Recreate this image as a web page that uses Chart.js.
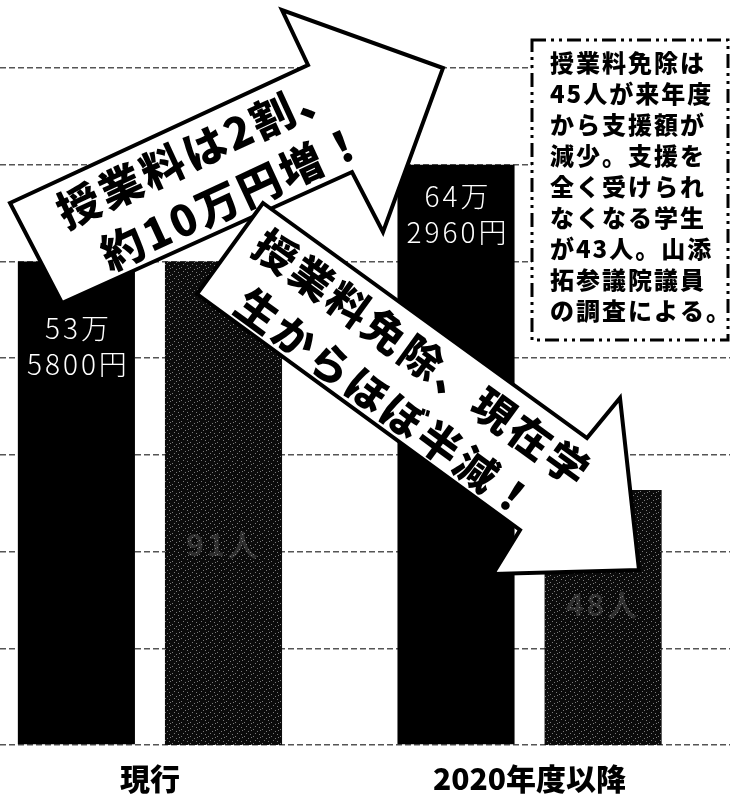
<!DOCTYPE html>
<html lang="ja">
<head>
<meta charset="utf-8">
<title>授業料と授業料免除</title>
<script src="https://cdn.jsdelivr.net/npm/chart.js@4.4.1/dist/chart.umd.min.js"></script>
<style>
  html, body { margin: 0; padding: 0; background: #fff; }
  #wrap { position: relative; width: 730px; height: 795px; }
</style>
</head>
<body>
<div id="wrap"><canvas id="tuitionChart"></canvas></div>
<script>
// --- data ---
const categories = ["現行", "2020年度以降"];
const tuition = [535800, 642960];   // 授業料（円）
const exempted = [91, 48];          // 授業料免除（人）
const yenStep = 107160;             // grid step, yen axis
const peopleStep = 18.2;            // grid step, people axis
const gridCount = 7;

const noteLines = ["授業料免除は", "45人が来年度", "から支援額が", "減少。支援を", "全く受けられ",
  "なくなる学生", "が43人。山添", "拓参議院議員", "の調査による。"];
const arrowUpLines = ["授業料は2割、", "約10万円増！"];
const arrowDownLines = ["授業料免除、現在学", "生からほぼ半減！"];

const FONT = '"Noto Sans CJK JP", "Noto Sans", sans-serif';

// dark stippled fill for the second series
function stipple() {
  const c = document.createElement("canvas");
  c.width = 9; c.height = 7;
  const g = c.getContext("2d");
  g.fillStyle = "#0b0b0b";
  g.fillRect(0, 0, 9, 7);
  g.fillStyle = "#7a7a7a";
  [[1, 1], [5, 3], [3, 5], [7, 6], [8, 2]].forEach(([x, y]) => g.fillRect(x, y, 1, 1));
  return g.createPattern(c, "repeat");
}

function drawArrow(ctx, pts) {
  ctx.beginPath();
  pts.forEach(([x, y], i) => i ? ctx.lineTo(x, y) : ctx.moveTo(x, y));
  ctx.closePath();
  ctx.fillStyle = "#fff";
  ctx.fill();
  ctx.lineWidth = 4;
  ctx.lineJoin = "miter";
  ctx.strokeStyle = "#000";
  ctx.stroke();
}

function drawRotatedLines(ctx, lines, ox, oy, angle, starts, offsets, size) {
  ctx.save();
  ctx.translate(ox, oy);
  ctx.rotate(angle);
  ctx.font = `900 ${size}px ${FONT}`;
  ctx.fillStyle = "#000";
  ctx.textAlign = "left";
  ctx.textBaseline = "middle";
  ctx.letterSpacing = "3px";
  lines.forEach((t, i) => ctx.fillText(t, starts[i], offsets[i]));
  ctx.restore();
}

// labels, note box and the two arrows
const overlay = {
  id: "overlay",
  afterDatasetsDraw(chart) {
    const ctx = chart.ctx;
    const black = chart.getDatasetMeta(0).data;
    const gray = chart.getDatasetMeta(1).data;

    ctx.save();
    ctx.textAlign = "center";
    ctx.textBaseline = "middle";
    ctx.fillStyle = "#fff";
    ctx.font = `300 28px ${FONT}`;
    ctx.letterSpacing = "3px";
    const drop = [67, 32];
    black.forEach((bar, i) => {
      const man = Math.floor(tuition[i] / 10000);
      const yen = tuition[i] % 10000;
      ctx.fillText(man + "万", bar.x + 2, bar.y + drop[i]);
      ctx.fillText(yen + "円", bar.x + 2, bar.y + drop[i] + 36);
    });
    ctx.fillStyle = "rgba(255,255,255,0.15)";
    ctx.font = `bold 30px ${FONT}`;
    const grayDrop = [283, 115];
    gray.forEach((bar, i) => ctx.fillText(exempted[i] + "人", bar.x, bar.y + grayDrop[i]));
    ctx.restore();

    // note box
    ctx.save();
    ctx.fillStyle = "#fff";
    ctx.fillRect(532, 40, 198, 300);
    ctx.setLineDash([14, 5, 3, 5, 3, 5]);
    ctx.lineWidth = 3;
    ctx.strokeStyle = "#000";
    ctx.strokeRect(532, 40, 196, 300);
    ctx.setLineDash([]);
    ctx.fillStyle = "#000";
    ctx.font = `900 24px ${FONT}`;
    ctx.letterSpacing = "2px";
    ctx.textAlign = "left";
    ctx.textBaseline = "middle";
    noteLines.forEach((t, i) => ctx.fillText(t, 550, 63 + i * 31));
    ctx.restore();

    // arrow going up
    ctx.save();
    drawArrow(ctx, [[10, 203], [308, 65], [282, 10], [443, 68], [383, 232], [352, 172], [62, 303]]);
    drawRotatedLines(ctx, arrowUpLines, 10, 203, -24.8 * Math.PI / 180, [40, 62], [31, 88], 43);
    // arrow going down
    drawArrow(ctx, [[263, 203], [587, 438], [620, 398], [639, 570], [493, 574], [520, 530], [197, 294]]);
    drawRotatedLines(ctx, arrowDownLines, 263, 203, 36 * Math.PI / 180, [18, 38], [32, 90], 42);
    ctx.restore();
  }
};

new Chart(document.getElementById("tuitionChart"), {
  type: "bar",
  data: {
    datasets: [
      {
        label: "授業料",
        data: tuition.map((v, i) => ({ x: i, y: v })),
        yAxisID: "y",
        backgroundColor: "#000",
        categoryPercentage: 0.775,
        barPercentage: 0.796
      },
      {
        label: "授業料免除",
        data: exempted.map((v, i) => ({ x: i, y: v })),
        yAxisID: "y2",
        backgroundColor: stipple(),
        categoryPercentage: 0.775,
        barPercentage: 0.796
      }
    ]
  },
  options: {
    responsive: true,
    maintainAspectRatio: false,
    animation: false,
    layout: { padding: { top: 68, left: 0, right: 0, bottom: 0 } },
    plugins: { legend: { display: false }, tooltip: { enabled: false } },
    scales: {
      x: {
        type: "linear",
        offset: false,
        min: -0.395,
        max: 1.528,
        grid: { display: false, drawTicks: false, offset: false },
        border: { display: false },
        afterFit: s => { s.height = 50; },
        ticks: {
          stepSize: 1,
          includeBounds: false,
          autoSkip: false,
          maxRotation: 0,
          padding: 16,
          color: "#000",
          font: { family: FONT, size: 30, weight: "900" },
          callback: v => categories[v] ?? ""
        }
      },
      y: {
        min: 0,
        max: yenStep * gridCount,
        ticks: { display: false, stepSize: yenStep },
        grid: { color: "#555", lineWidth: 1.5, drawTicks: false },
        border: { display: false, dash: [6, 3] }
      },
      y2: {
        display: false,
        position: "right",
        min: 0,
        max: peopleStep * gridCount
      }
    }
  },
  plugins: [overlay]
});
</script>
</body>
</html>
